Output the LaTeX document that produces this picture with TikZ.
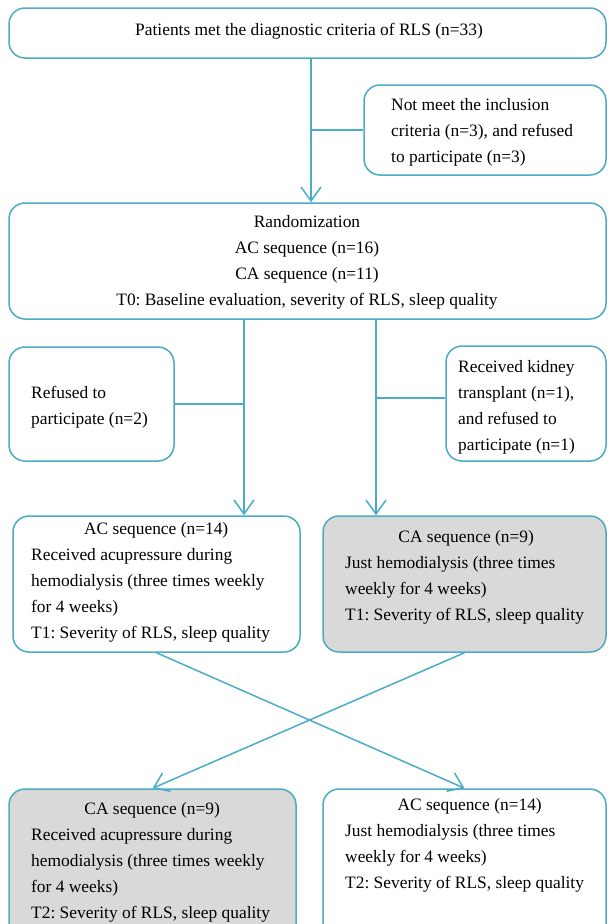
\documentclass[tikz,border=0pt]{standalone}
\usepackage{fontspec}
\setmainfont{Liberation Serif}
\usetikzlibrary{arrows.meta}
\definecolor{flowblue}{RGB}{75,172,198}
\definecolor{boxgray}{RGB}{217,217,217}
\frenchspacing
\tikzset{
  box/.style={draw=flowblue, line width=1.5pt, rounded corners=16pt, fill=white, inner sep=0pt},
  graybox/.style={box, fill=boxgray},
  txt/.style={inner sep=0pt, yshift=-2.5pt, font=\fontsize{17.4}{26}\selectfont},
  conn/.style={draw=flowblue, line width=1.5pt},
  arr/.style={conn, -{Straight Barb[length=14pt,width=20pt,line width=1.5pt]}},
}
\begin{document}
\begin{tikzpicture}[x=1pt,y=1pt]
\useasboundingbox (0,0) rectangle (608,-924);
\clip (0,0) rectangle (608,-924);
% boxes
\node[box, minimum width=597pt, minimum height=50pt] (b1) at (307.5,-33) {};
\node[box, minimum width=242pt, minimum height=90pt] (b2) at (485,-130) {};
\node[box, minimum width=597pt, minimum height=116pt] (b3) at (307.5,-261) {};
\node[box, minimum width=165pt, minimum height=114pt] (b4) at (91.5,-404) {};
\node[box, minimum width=160pt, minimum height=115pt] (b5) at (526,-403.5) {};
\node[box, minimum width=287pt, minimum height=136pt] (b6) at (156.5,-584) {};
\node[graybox, minimum width=283pt, minimum height=136pt] (b7) at (464.5,-584) {};
\node[graybox, minimum width=287pt, minimum height=170pt] (b8) at (152.5,-874) {};
\node[box, minimum width=283pt, minimum height=170pt] (b9) at (464.5,-874) {};
% texts
\node[txt] (t1) at (309,-29) {Patients met the diagnostic criteria of RLS (n=33)};
\node[txt, anchor=west, align=left] (t2) at (391,-130) {Not meet the inclusion\\criteria (n=3), and refused\\to participate (n=3)};
\node[txt, align=center] (t3) at (307,-259.5) {Randomization\\AC sequence (n=16)\\CA sequence (n=11)\\T0: Baseline evaluation, severity of RLS, sleep quality};
\node[txt, anchor=west, align=left] (t4) at (31,-405) {Refused to\\participate (n=2)};
\node[txt, anchor=west, align=left] (t5) at (458,-404.5) {Received kidney\\transplant (n=1),\\and refused to\\participate (n=1)};
\node[txt, anchor=west, align=left] (t6) at (31,-580) {\makebox[250pt]{AC sequence (n=14)}\\Received acupressure during\\hemodialysis (three times weekly\\for 4 weeks)\\T1: Severity of RLS, sleep quality};
\node[txt, anchor=west, align=left] (t7) at (345,-574.5) {\makebox[242pt]{CA sequence (n=9)}\\Just hemodialysis (three times\\weekly for 4 weeks)\\T1: Severity of RLS, sleep quality};
\node[txt, anchor=west, align=left] (t8) at (31,-859.5) {\makebox[242pt]{CA sequence (n=9)}\\Received acupressure during\\hemodialysis (three times weekly\\for 4 weeks)\\T2: Severity of RLS, sleep quality};
\node[txt, anchor=west, align=left] (t9) at (345,-842.5) {\makebox[249pt]{AC sequence (n=14)}\\Just hemodialysis (three times\\weekly for 4 weeks)\\T2: Severity of RLS, sleep quality};
% connectors
\coordinate (c1) at (311,-58);
\coordinate (c2) at (244,-319);
\coordinate (c3) at (376,-319);
\draw[arr] (c1) -- (c1 |- b3.north);
\draw[conn] (b2.west) -- (b2.west -| c1);
\draw[arr] (c2) -- (c2 |- b6.north);
\draw[conn] (b4.east) -- (b4.east -| c2);
\draw[arr] (c3) -- (c3 |- b7.north);
\draw[conn] ([yshift=5.5pt]b5.west) -- ([yshift=5.5pt]b5.west -| c3);
\draw[arr] (b6.south) -- (b9.north);
\draw[arr] (b7.south) -- (b8.north);
\end{tikzpicture}
\end{document}
